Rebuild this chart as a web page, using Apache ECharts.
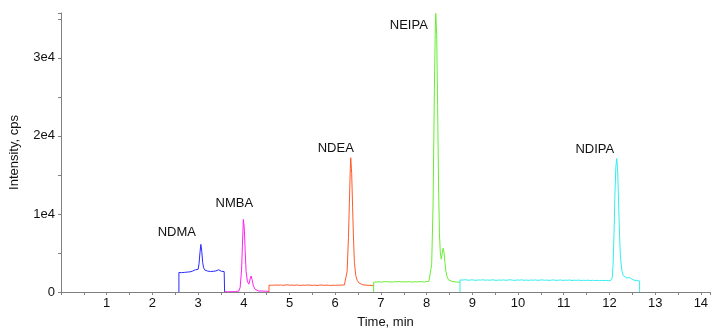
<!DOCTYPE html>
<html>
<head>
<meta charset="utf-8">
<script src="https://cdn.jsdelivr.net/npm/echarts@6/dist/echarts.min.js"></script>
<style>html,body{margin:0;padding:0;background:#fff}#c{width:712px;height:334px}</style>
</head>
<body>
<div id="c"></div>
<script>
// ---- data: [time (min), intensity (cps)] ----
const compoundNames = ['NDMA', 'NMBA', 'NDEA', 'NEIPA', 'NDIPA'];
const xTickLabels = ['1','2','3','4','5','6','7','8','9','10','11','12','13','14'];
const yTickLabels = {0: '0', 10000: '1e4', 20000: '2e4', 30000: '3e4'};

const ndma = [[2.58,0],[2.58,2500],[2.61,2560],[2.64,2480],[2.67,2540],[2.70,2510],[2.73,2470],[2.76,2550],[2.79,2520],[2.82,2580],[2.85,2600],[2.88,2680],[2.91,2650],[2.94,2850],[2.97,2720],[3.00,2900],[3.02,3600],[3.04,5000],[3.06,6100],[3.08,5200],[3.10,3800],[3.12,3100],[3.15,2800],[3.18,2750],[3.21,2680],[3.24,2720],[3.27,2620],[3.30,2700],[3.33,2650],[3.36,2780],[3.39,2700],[3.42,2640],[3.45,2850],[3.48,2700],[3.51,2650],[3.54,2700],[3.57,2620],[3.58,2650],[3.58,0]];

const nmba = [[3.58,40],[3.62,70],[3.66,30],[3.70,60],[3.74,40],[3.78,80],[3.82,50],[3.86,70],[3.89,120],[3.92,600],[3.95,2800],[3.97,6000],[3.99,9300],[4.01,8200],[4.03,5200],[4.05,2600],[4.08,1300],[4.11,1000],[4.14,1700],[4.16,2050],[4.18,1600],[4.21,800],[4.24,400],[4.28,200],[4.32,120],[4.36,90],[4.40,130],[4.44,70],[4.48,100],[4.52,60],[4.55,80]];

const ndea = [[4.55,0],[4.55,850],[4.60,880],[4.65,860],[4.70,900],[4.75,870],[4.80,910],[4.85,850],[4.90,880],[4.95,920],[5.00,870],[5.05,890],[5.10,850],[5.15,900],[5.20,870],[5.25,840],[5.30,890],[5.35,860],[5.40,900],[5.45,870],[5.50,850],[5.55,880],[5.60,840],[5.65,870],[5.70,900],[5.75,850],[5.80,880],[5.85,860],[5.90,830],[5.95,870],[6.00,850],[6.05,880],[6.10,860],[6.15,890],[6.20,900],[6.23,1100],[6.26,2600],[6.29,7000],[6.31,11500],[6.33,15800],[6.34,17200],[6.36,15200],[6.38,11000],[6.40,6800],[6.42,3800],[6.45,2100],[6.48,1500],[6.52,1150],[6.56,1000],[6.60,930],[6.64,900],[6.68,870],[6.72,880],[6.76,850],[6.80,870],[6.84,840]];

const neipa = [[6.84,0],[6.84,1250],[6.90,1280],[6.95,1320],[7.00,1260],[7.05,1300],[7.10,1340],[7.15,1290],[7.20,1310],[7.25,1270],[7.30,1320],[7.35,1300],[7.40,1350],[7.45,1290],[7.50,1310],[7.55,1280],[7.60,1330],[7.65,1300],[7.70,1270],[7.75,1320],[7.80,1290],[7.85,1340],[7.90,1300],[7.95,1280],[8.00,1330],[8.05,1360],[8.08,1600],[8.11,3500],[8.14,11000],[8.17,26000],[8.19,34000],[8.20,35700],[8.22,33000],[8.24,24000],[8.26,14000],[8.28,7500],[8.30,5000],[8.32,4200],[8.34,4900],[8.36,5600],[8.38,5100],[8.40,3800],[8.42,2700],[8.45,1900],[8.48,1550],[8.52,1400],[8.56,1350],[8.60,1300],[8.65,1280],[8.70,1260],[8.73,1250]];

const ndipa = [[8.73,0],[8.73,1550],[8.78,1520],[8.83,1580],[8.88,1540],[8.93,1500],[8.98,1560],[9.03,1530],[9.08,1490],[9.13,1550],[9.18,1520],[9.23,1570],[9.28,1510],[9.33,1540],[9.38,1500],[9.43,1560],[9.48,1530],[9.53,1480],[9.58,1540],[9.63,1510],[9.68,1550],[9.73,1500],[9.78,1530],[9.83,1570],[9.88,1510],[9.93,1490],[9.98,1540],[10.03,1520],[10.08,1560],[10.13,1500],[10.18,1530],[10.23,1480],[10.28,1540],[10.33,1510],[10.38,1550],[10.43,1490],[10.48,1520],[10.53,1560],[10.58,1500],[10.63,1530],[10.68,1480],[10.73,1520],[10.78,1550],[10.83,1490],[10.88,1510],[10.93,1540],[10.98,1480],[11.03,1520],[11.08,1500],[11.13,1540],[11.18,1470],[11.23,1510],[11.28,1490],[11.33,1530],[11.38,1470],[11.43,1500],[11.48,1480],[11.53,1520],[11.58,1460],[11.63,1500],[11.68,1470],[11.73,1490],[11.78,1450],[11.83,1480],[11.88,1460],[11.93,1490],[11.98,1450],[12.03,1500],[12.06,1800],[12.08,3500],[12.10,7500],[12.12,12500],[12.14,16000],[12.16,17100],[12.18,15500],[12.20,11500],[12.22,7500],[12.24,4500],[12.27,2800],[12.30,2100],[12.34,1850],[12.38,1800],[12.41,1950],[12.44,1850],[12.48,1650],[12.52,1550],[12.56,1500],[12.60,1450],[12.63,1480],[12.66,1420],[12.66,0]];

// ---- styling ----
const seriesData = [ndma, nmba, ndea, neipa, ndipa];
const colors = ['#2a2aff', '#ff22ee', '#ff5a2a', '#66ee33', '#33eeee'];
const labelOffsets = [[-24,-12],[-9,-16],[-15,-9],[-27,12],[-22,-9]];
const FONT = '"Liberation Sans", Arial, sans-serif';

const chart = echarts.init(document.getElementById('c'), null, {renderer: 'canvas'});
chart.setOption({
  animation: false,
  backgroundColor: '#fff',
  grid: {left: 57, right: 2, top: 13, bottom: 41, containLabel: false},
  xAxis: {
    type: 'value', min: 0, max: 14.2, interval: 1,
    name: 'Time, min', nameLocation: 'middle', nameGap: 24,
    nameTextStyle: {fontFamily: FONT, fontSize: 13, color: '#111'},
    axisLine: {lineStyle: {color: '#808080', width: 1}},
    axisTick: {show: true, length: 3, lineStyle: {color: '#808080'}},
    minorTick: {show: true, splitNumber: 2, length: 3, lineStyle: {color: '#808080'}},
    splitLine: {show: false},
    axisLabel: {
      fontFamily: FONT, fontSize: 13, color: '#111', margin: 5,
      showMaxLabel: false,
      formatter: v => (Number.isInteger(v) && v >= 1 && v <= xTickLabels.length) ? xTickLabels[v - 1] : ''
    }
  },
  yAxis: {
    type: 'value', min: 0, max: 35750, interval: 10000,
    name: 'Intensity, cps', nameLocation: 'middle', nameGap: 40,
    nameTextStyle: {fontFamily: FONT, fontSize: 13, color: '#111'},
    axisLine: {show: true, lineStyle: {color: '#808080', width: 1}},
    axisTick: {show: true, length: 3, lineStyle: {color: '#808080'}},
    minorTick: {show: true, splitNumber: 2, length: 3, lineStyle: {color: '#808080'}},
    splitLine: {show: false},
    axisLabel: {
      fontFamily: FONT, fontSize: 13, color: '#111', margin: 6, showMaxLabel: false,
      formatter: v => (v in yTickLabels) ? yTickLabels[v] : ''
    }
  },
  series: seriesData.map((d, i) => ({
    type: 'line', name: compoundNames[i], data: d,
    symbol: 'none', smooth: false,
    lineStyle: {color: colors[i], width: 1},
    itemStyle: {color: colors[i]},
    silent: true,
    markPoint: {
      symbol: 'circle', symbolSize: 0, silent: true,
      data: [{type: 'max', name: compoundNames[i]}],
      label: {
        show: true, position: 'inside', offset: labelOffsets[i],
        formatter: compoundNames[i],
        fontFamily: FONT, fontSize: 13, color: '#111'
      }
    }
  }))
});
</script>
</body>
</html>
